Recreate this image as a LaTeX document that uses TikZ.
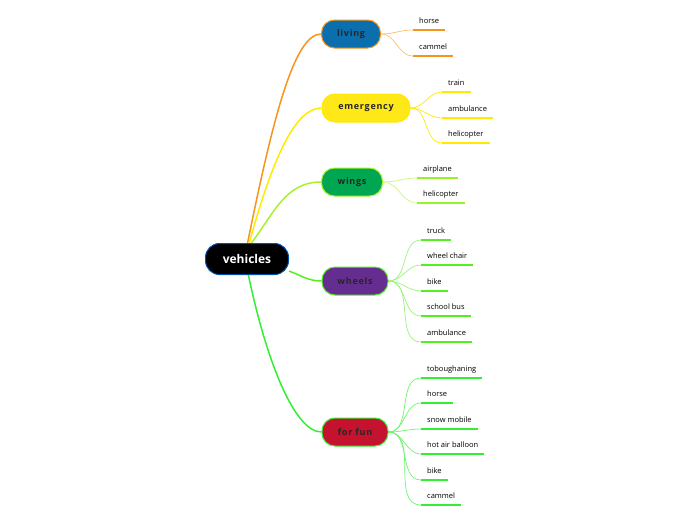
\documentclass[tikz,border=0pt]{standalone}
\usepackage{fontspec}
\setmainfont{Open Sans}
\newfontfamily\spacedfont[LetterSpace=8]{Open Sans}
\usetikzlibrary{backgrounds}

\definecolor{livfill}{HTML}{0B6FAE}
\definecolor{emgfill}{HTML}{FFE817}
\definecolor{wngfill}{HTML}{00A651}
\definecolor{whlfill}{HTML}{662D91}
\definecolor{funfill}{HTML}{C4122F}
\definecolor{orangeln}{HTML}{F7941D}
\definecolor{yellowln}{HTML}{FFEA00}
\definecolor{limeln}{HTML}{A6F22B}
\definecolor{greenln}{HTML}{55EE22}
\definecolor{brightln}{HTML}{33EE33}

\begin{document}
\begin{tikzpicture}[x=1pt, y=-1pt,
    topic/.style={rectangle, rounded corners=13pt, minimum height=28pt,
      inner sep=0pt, line width=1pt, text=black!85,
      font=\spacedfont\bfseries\fontsize{9}{10}\selectfont},
    leaf/.style={anchor=south west, inner xsep=6pt, inner ysep=3pt,
      text height=6pt, text depth=3.5pt, font=\fontsize{7.5}{9}\selectfont},
    branch/.style={line width=1.5pt},
    twig/.style={line width=0.7pt},
    under/.style={line width=1.6pt}]
  \useasboundingbox (0,0) rectangle (696,520);
  %tikz  mind map, vehicles
  \node[rectangle, rounded corners=14pt, fill=black, draw=blue!55!cyan!70!black,
    line width=1pt, minimum width=83pt, minimum height=31pt, text=white,
    font=\bfseries\fontsize{12}{14}\selectfont] (veh) at (247,259) {vehicles};

  \node[topic, fill=livfill, draw=orangeln, minimum width=59pt] (liv) at (351,34) {living};
  \node[topic, fill=emgfill, draw=yellowln, minimum width=88pt] (emg) at (366,108) {emergency};
  \node[topic, fill=wngfill, draw=limeln, minimum width=61pt] (wng) at (352,182) {wings};
  \node[topic, fill=whlfill, draw=greenln, minimum width=66pt] (whl) at (355,281) {wheels};
  \node[topic, fill=funfill, draw=brightln, minimum width=66pt] (fun) at (355,432) {for fun};

  % leaves
  \node[leaf] (liv1) at (413,30) {horse};
  \node[leaf] (liv2) at (413,56) {cammel};
  \node[leaf] (emg1) at (442,92) {train};
  \node[leaf] (emg2) at (442,118) {ambulance};
  \node[leaf] (emg3) at (442,143) {helicopter};
  \node[leaf] (wng1) at (417,178) {airplane};
  \node[leaf] (wng2) at (417,203) {helicopter};
  \node[leaf] (whl1) at (421,240) {truck};
  \node[leaf] (whl2) at (421,265) {wheel chair};
  \node[leaf] (whl3) at (421,291) {bike};
  \node[leaf] (whl4) at (421,316) {school bus};
  \node[leaf] (whl5) at (421,342) {ambulance};
  \node[leaf] (fun1) at (421,378) {toboughaning};
  \node[leaf] (fun2) at (421,403) {horse};
  \node[leaf] (fun3) at (421,429) {snow mobile};
  \node[leaf] (fun4) at (421,454) {hot air balloon};
  \node[leaf] (fun5) at (421,480) {bike};
  \node[leaf] (fun6) at (421,505) {cammel};

  \begin{scope}[on background layer]
    \draw[branch, orangeln] (veh.88) .. controls +(25,-123) and +(-27,0) .. (liv.west);
    \draw[branch, yellowln] (veh.82) .. controls +(23,-83) and +(-27,0) .. (emg.west);
    \draw[branch, limeln] (veh.75) to[out=52, in=180] (wng.west);
    \draw[branch, greenln] (veh.-16) to[out=-20, in=180] (whl.west);
    \draw[branch, brightln] (veh.-85) .. controls +(18,86) and +(-27,0) .. (fun.west);

    \foreach \n in {1,2}
      \draw[twig, orangeln!60] (liv.east) to[out=0, in=180] (liv\n.south west);
    \foreach \n in {1,2,3}
      \draw[twig, yellowln] (emg.east) to[out=0, in=180] (emg\n.south west);
    \foreach \n in {1,2}
      \draw[twig, limeln!60] (wng.east) to[out=0, in=180] (wng\n.south west);
    \foreach \n in {1,...,5}
      \draw[twig, greenln!60] (whl.east) to[out=0, in=180] (whl\n.south west);
    \foreach \n in {1,...,6}
      \draw[twig, brightln!70] (fun.east) to[out=0, in=180] (fun\n.south west);
  \end{scope}

  % underlines
  \foreach \n in {1,2}
    \draw[under, orangeln] (liv\n.south west) -- (liv\n.south east);
  \foreach \n in {1,2,3}
    \draw[under, yellowln] (emg\n.south west) -- (emg\n.south east);
  \foreach \n in {1,2}
    \draw[under, limeln!90!green] (wng\n.south west) -- (wng\n.south east);
  \foreach \n in {1,...,5}
    \draw[under, greenln] (whl\n.south west) -- (whl\n.south east);
  \foreach \n in {1,...,6}
    \draw[under, brightln] (fun\n.south west) -- (fun\n.south east);
\end{tikzpicture}
\end{document}
